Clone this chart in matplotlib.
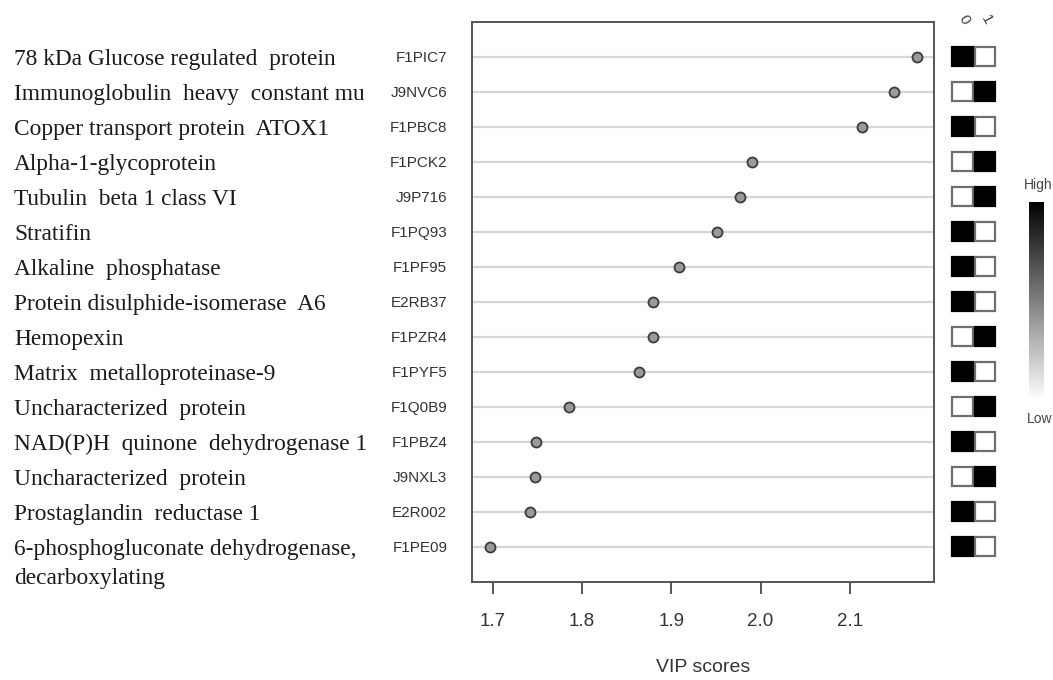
import matplotlib
matplotlib.use("Agg")
import matplotlib.pyplot as plt
import matplotlib.transforms as mtransforms
from matplotlib.patches import Rectangle
import numpy as np

# ---------------- data (top to bottom) ----------------
protein_names = [
    "78 kDa Glucose regulated  protein",
    "Immunoglobulin  heavy  constant mu",
    "Copper transport protein  ATOX1",
    "Alpha-1-glycoprotein",
    "Tubulin  beta 1 class VI",
    "Stratifin",
    "Alkaline  phosphatase",
    "Protein disulphide-isomerase  A6",
    "Hemopexin",
    "Matrix  metalloproteinase-9",
    "Uncharacterized  protein",
    "NAD(P)H  quinone  dehydrogenase 1",
    "Uncharacterized  protein",
    "Prostaglandin  reductase 1",
    "6-phosphogluconate dehydrogenase,\ndecarboxylating",
]
accessions = ["F1PIC7", "J9NVC6", "F1PBC8", "F1PCK2", "J9P716", "F1PQ93",
              "F1PF95", "E2RB37", "F1PZR4", "F1PYF5", "F1Q0B9", "F1PBZ4",
              "J9NXL3", "E2R002", "F1PE09"]
vip_scores = [2.175, 2.149, 2.114, 1.990, 1.977, 1.951, 1.909, 1.880,
              1.880, 1.864, 1.785, 1.749, 1.747, 1.742, 1.697]
group_labels = ["0", "1"]
group0_high = [1, 0, 1, 0, 0, 1, 1, 1, 0, 1, 0, 1, 0, 1, 1]
group1_high = [0, 1, 0, 1, 1, 0, 0, 0, 1, 0, 1, 0, 1, 0, 0]
x_ticks = [1.7, 1.8, 1.9, 2.0, 2.1]
x_label = "VIP scores"
legend_labels = ["High", "Low"]

# ---------------- figure ----------------
W, H = 1053, 680
fig = plt.figure(figsize=(W / 100, H / 100), dpi=100)

def fx(px):
    return px / W

def fy(py):
    return 1 - py / H

top_px, bot_px = 21.7, 581.7
ax = fig.add_axes([fx(472.3), fy(bot_px), fx(934) - fx(472.3), fy(top_px) - fy(bot_px)])

n = len(accessions)
ypos = np.arange(n, 0, -1)  # top row = n

ax.set_xlim(1.6772, 2.1942)
ax.set_ylim(0, n + 1)
ax.hlines(ypos, 1.6772, 2.1942, color="#d6d6d6", lw=1.6, zorder=1)
ax.plot(vip_scores, ypos, "o", ms=7.2, mfc="#9a9a9a", mec="#3c3c3c", mew=1.3, zorder=3)

for s in ax.spines.values():
    s.set_color("#555555")
    s.set_linewidth(1.4)

ax.set_xticks(x_ticks)
ax.set_xticklabels([f"{t:.1f}" for t in x_ticks], fontsize=13.5, color="#333333",
                   family="Liberation Sans")
ax.tick_params(axis="x", length=8.8, width=1.4, color="#555555", pad=14)
ax.set_yticks(ypos)
ax.set_yticklabels(accessions, fontsize=11, color="#333333", family="Liberation Sans")
ax.tick_params(axis="y", length=0, pad=18)

fig.text(fx(703.6), fy(667), x_label, fontsize=14, color="#333333",
         family="Liberation Sans", ha="center", va="center")

# protein names (serif), left of the accession labels
trans = mtransforms.blended_transform_factory(fig.transFigure, ax.transData)
for name, yv in zip(protein_names, ypos):
    lines = name.split("\n")
    for k, line in enumerate(lines):
        off = mtransforms.offset_copy(trans, fig=fig, x=0, y=-(3 + 29 * k) * 0.72, units="points")
        fig.text(fx(14), yv, line, transform=off, fontsize=16.8, color="#1a1a1a",
                 family="Liberation Serif", ha="left", va="center")

# ---------------- heat squares ----------------
hax = fig.add_axes([fx(951.25), fy(bot_px), fx(45), fy(top_px) - fy(bot_px)])
hax.set_xlim(-0.5, 1.5)
hax.set_ylim(0, n + 1)
hax.axis("off")
cw, ch = 0.89, 0.55
for col, vals in enumerate([group0_high, group1_high]):
    for yv, v in zip(ypos, vals):
        fc = "black" if v else "white"
        ec = "black" if v else "#6e6e6e"
        hax.add_patch(Rectangle((col - cw / 2, yv - ch / 2), cw, ch, facecolor=fc,
                                edgecolor=ec, lw=1.6, clip_on=False))
for col, lab in enumerate(group_labels):
    hax.text(col + 0.05, n + 1.05, lab, rotation=-60, fontsize=11, color="#444444",
             family="Liberation Sans", ha="center", va="center", clip_on=False)

# ---------------- color legend ----------------
cax = fig.add_axes([fx(1029.3), fy(400), fx(15), fy(201.7) - fy(400)])
grad = np.linspace(0, 1, 256).reshape(-1, 1)
cax.imshow(grad, aspect="auto", cmap="gray", origin="upper")
cax.axis("off")
fig.text(fx(1038), fy(185), legend_labels[0], fontsize=10, color="#444444",
         family="Liberation Sans", ha="center", va="center")
fig.text(fx(1040), fy(419), legend_labels[1], fontsize=10, color="#444444",
         family="Liberation Sans", ha="center", va="center")

fig.savefig("out.png", dpi=100, facecolor="white")
